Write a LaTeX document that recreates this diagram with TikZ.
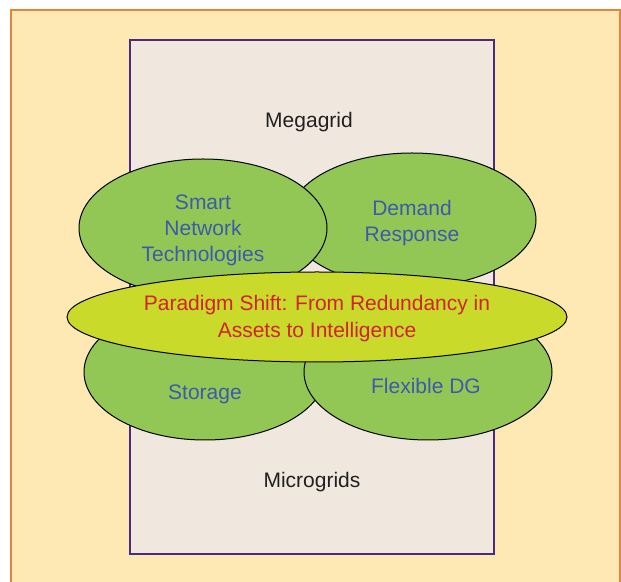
\documentclass[tikz,border=0pt]{standalone}
\usepackage{fontspec}
\setmainfont{Liberation Sans}
\usetikzlibrary{shapes.geometric}
\definecolor{panelbg}{HTML}{FEE8B4}
\definecolor{panelline}{HTML}{E0873C}
\definecolor{gridbg}{HTML}{F0E8DF}
\definecolor{gridline}{HTML}{4A2C7E}
\definecolor{leafgreen}{HTML}{92C655}
\definecolor{limegreen}{HTML}{C9DA2A}
\definecolor{bluetext}{HTML}{3E5AAB}
\definecolor{redtext}{HTML}{D2232A}
\definecolor{darktext}{HTML}{231F20}
\begin{document}
\begin{tikzpicture}[x=0.5pt,y=-0.5pt,
    every node/.style={font=\fontsize{10.5}{13}\selectfont},
    blob/.style={shape=ellipse,draw=black,line width=0.5pt,fill=leafgreen,inner sep=0pt},
    blobtext/.style={align=center,text=bluetext,inner sep=0pt},
    gridlabel/.style={text=darktext,inner sep=1pt}]
  \useasboundingbox (0,0) rectangle (621,582);
  \clip (0,0) rectangle (621,582);
  \draw[panelline,fill=panelbg,line width=1pt] (11,10) rectangle (620,600);
  \node[draw=gridline,fill=gridbg,line width=1pt,minimum width=182pt,minimum height=257pt,inner sep=0pt] (grid) at (312,297) {};
  \node[gridlabel] (mega) at (309,122) {Megagrid};
  \node[gridlabel] (micro) at (312,482) {Microgrids};
  % upper pair
  \node[blob,minimum width=124pt,minimum height=67pt] (demand) at (412,220) {};
  \node[blobtext] (demandtxt) at (412,223) {Demand\\Response};
  \node[blob,minimum width=124pt,minimum height=69pt] (smart) at (203,228) {};
  \node[blobtext] (smarttxt) at (203,230) {Smart\\Network\\Technologies};
  % lower pair
  \node[blob,minimum width=121pt,minimum height=68pt] (storage) at (205,372) {};
  \node[blobtext] (storagetxt) at (205,394) {Storage};
  \node[blob,minimum width=124pt,minimum height=68pt] (flexdg) at (428,372) {};
  \node[blobtext] (flexdgtxt) at (426,386) {Flexible DG};
  % centre band
  \node[blob,fill=limegreen,minimum width=250pt,minimum height=45pt] (shift) at (317,317) {};
  \node[blobtext,text=redtext,font=\fontsize{10.5}{13.5}\selectfont] (shifttxt) at (317,319) {Paradigm Shift: From Redundancy in\\Assets to Intelligence};
\end{tikzpicture}
\end{document}
